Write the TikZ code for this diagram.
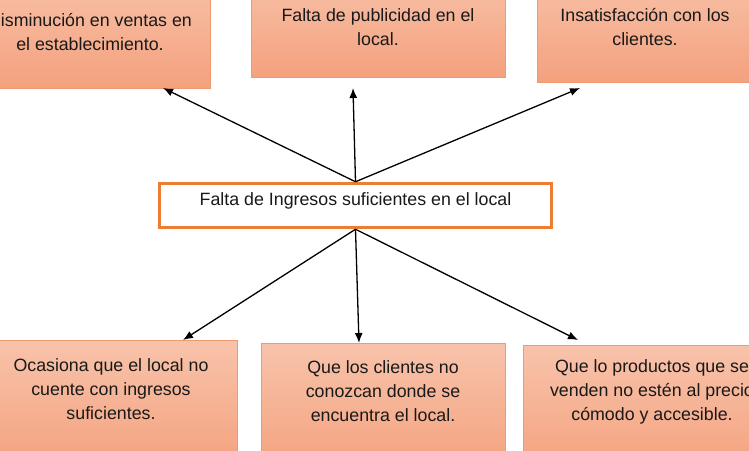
\documentclass[tikz,border=0pt]{standalone}
\usepackage{fontspec}
\setmainfont{Liberation Sans}
\usetikzlibrary{arrows.meta}
\definecolor{boxtop}{HTML}{F8C3AB}
\definecolor{boxbot}{HTML}{F4A17D}
\definecolor{boxline}{HTML}{F09A70}
\definecolor{mainline}{HTML}{ED7D31}
\tikzset{
  causebox/.style={draw=boxline, line width=0.8pt, top color=boxtop, bottom color=boxbot, inner sep=0pt},
  boxtext/.style={anchor=center, align=center, font=\fontsize{17.8}{24}\selectfont, text=black!90, inner sep=0pt},
  conn/.style={draw=black, line width=1.3pt, -{Latex[length=10pt,width=8pt]}}
}
\begin{document}
\begin{tikzpicture}[x=1pt,y=-1pt]
\useasboundingbox (0,0) rectangle (749,450);
\clip (0,0) rectangle (749,450);
% top boxes
\node[causebox, minimum width=242pt, minimum height=118pt] (d1) at (89,29) {};
\node[boxtext] (d1t) at (90,32.5) {Disminución en ventas en\\el establecimiento.};
\node[causebox, minimum width=254pt, minimum height=107pt] (d2) at (378,23.5) {};
\node[boxtext] (d2t) at (378,27.5) {Falta de publicidad en el\\local.};
\node[causebox, minimum width=216pt, minimum height=112pt] (d3) at (645,26) {};
\node[boxtext] (d3t) at (645,27.5) {Insatisfacción con los\\clientes.};
% center
\node[draw=mainline, line width=3.5pt, fill=white, minimum width=392pt, minimum height=44pt, inner sep=0pt] (c) at (355.5,205.5) {};
\node[boxtext] (ct) at (355.5,201) {Falta de Ingresos suficientes en el local};
% bottom boxes
\node[causebox, minimum width=252pt, minimum height=130pt] (b1) at (111,405) {};
\node[boxtext] (b1t) at (111,389) {Ocasiona que el local no\\cuente con ingresos\\suficientes.};
\node[causebox, minimum width=244pt, minimum height=130pt] (b2) at (383,408) {};
\node[boxtext] (b2t) at (383,391.5) {Que los clientes no\\conozcan donde se\\encuentra el local.};
\node[causebox, minimum width=258pt, minimum height=130pt] (b3) at (652,410) {};
\node[boxtext] (b3t) at (652,392) {Que lo productos que se\\venden no estén al precio\\cómodo y accesible.};
% arrow ends
\coordinate (t1) at (163,88);
\coordinate (t2) at (353,88);
\coordinate (t3) at (580,88);
\coordinate (u1) at (183,340);
\coordinate (u2) at (359,343);
\coordinate (u3) at (578,340);
\draw[conn] (c.north) -- (t1);
\draw[conn] (c.north) -- (t2);
\draw[conn] (c.north) -- (t3);
\draw[conn] (c.south) -- (u1);
\draw[conn] (c.south) -- (u2);
\draw[conn] (c.south) -- (u3);
\end{tikzpicture}
\end{document}
